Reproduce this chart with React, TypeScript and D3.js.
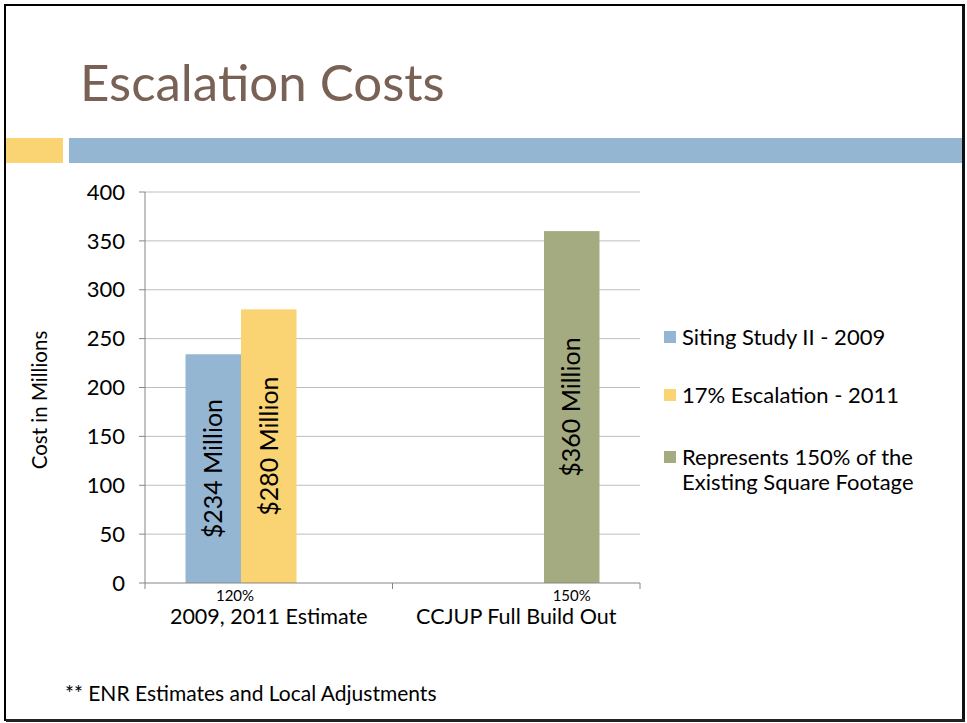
import React from "react";
import * as d3 from "d3";

const categories = ["2009, 2011 Estimate", "CCJUP Full Build Out"];
const seriesNames = [
  "Siting Study II - 2009",
  "17% Escalation - 2011",
  "Represents 150% of the Existing Square Footage",
];
const sitingStudy: (number | null)[] = [234, null];
const escalation: (number | null)[] = [280, null];
const represents: (number | null)[] = [null, 360];
const pctLabels = ["120%", "150%"];
const yTicks = [0, 50, 100, 150, 200, 250, 300, 350, 400];
const seriesColors = ["#94B6D2", "#FAD473", "#A5AB81"];

const FONT = "Lato, 'Open Sans', sans-serif";

export default function App() {
  const W = 967;
  const H = 723;
  const plot = { left: 145, right: 640, top: 192, bottom: 583 };
  const seriesValues = [sitingStudy, escalation, represents];

  const x = d3.scaleBand<string>().domain(categories).range([plot.left, plot.right]).padding(0);
  const xs = d3
    .scaleBand<number>()
    .domain([0, 1, 2])
    .range([0, x.bandwidth()])
    .paddingInner(0)
    .paddingOuter(0.73);
  const y = d3.scaleLinear().domain([0, 400]).range([plot.bottom, plot.top]);

  const bars: { cat: string; s: number; v: number }[] = [];
  categories.forEach((c, ci) => {
    seriesValues.forEach((arr, si) => {
      const v = arr[ci];
      if (v != null) bars.push({ cat: c, s: si, v });
    });
  });

  const pctX = categories.map((c, ci) => {
    const present = seriesValues.map((a, si) => (a[ci] != null ? si : -1)).filter((s) => s >= 0);
    const x0 = (x(c) as number) + (xs(present[0]) as number);
    const x1 = (x(c) as number) + (xs(present[present.length - 1]) as number) + xs.bandwidth();
    return (x0 + x1) / 2 - (present.length > 1 ? 6 : 0);
  });

  const legendY = [337, 395, 457];

  return (
    <div style={{ position: "fixed", left: 0, top: 0 }}>
      <svg width={W} height={H} style={{ display: "block", background: "#fff" }}>
        <rect x={5} y={5} width={959} height={715} fill="#fff" stroke="#000" strokeWidth={2} />
        <rect x={962} y={6} width={3} height={716} fill="#111" />
        <rect x={6} y={719} width={959} height={3} fill="#222" />
        <text x={80} y={101} fontFamily={FONT} fontSize={51} fill="#7A6155">
          Escalation Costs
        </text>
        <rect x={6} y={138} width={57} height={25} fill="#FAD473" />
        <rect x={69} y={138} width={893} height={25} fill="#94B6D2" />

        {/* gridlines */}
        {yTicks.map((t) => (
          <g key={t}>
            {t > 0 && (
              <line x1={plot.left} x2={plot.right} y1={y(t)} y2={y(t)} stroke="#BEBEBE" strokeWidth={1} />
            )}
            <line x1={plot.left - 6} x2={plot.left} y1={y(t)} y2={y(t)} stroke="#868686" strokeWidth={1} />
            <text
              x={125}
              y={y(t)}
              dy="0.35em"
              textAnchor="end"
              fontFamily={FONT}
              fontSize={22}
              fill="#000"
            >
              {t}
            </text>
          </g>
        ))}

        {/* bars */}
        {bars.map((b, i) => {
          const bx = (x(b.cat) as number) + (xs(b.s) as number);
          const bw = xs.bandwidth();
          const top = y(b.v);
          const cx = bx + bw / 2;
          const cy = (top + plot.bottom) / 2;
          return (
            <g key={i}>
              <rect x={bx} y={top} width={bw} height={plot.bottom - top} fill={seriesColors[b.s]} />
              <text
                transform={`translate(${cx},${cy}) rotate(-90)`}
                textAnchor="middle"
                dy="0.35em"
                fontFamily={FONT}
                fontSize={25}
                fill="#000"
              >
                {`$${b.v} Million`}
              </text>
            </g>
          );
        })}

        {/* axes */}
        <line x1={plot.left} x2={plot.left} y1={plot.top} y2={plot.bottom} stroke="#868686" strokeWidth={1} />
        <line x1={plot.left} x2={plot.right} y1={plot.bottom} y2={plot.bottom} stroke="#868686" strokeWidth={1} />
        {[...categories.map((c) => x(c) as number), plot.right].map((tx, i) => (
          <line key={i} x1={tx} x2={tx} y1={plot.bottom} y2={plot.bottom + 6} stroke="#868686" strokeWidth={1} />
        ))}
        {pctLabels.map((p, i) => (
          <text key={p} x={pctX[i]} y={601} textAnchor="middle" fontFamily={FONT} fontSize={15} fill="#000">
            {p}
          </text>
        ))}
        {categories.map((c) => (
          <text
            key={c}
            x={(x(c) as number) + x.bandwidth() / 2}
            y={624}
            textAnchor="middle"
            fontFamily={FONT}
            fontSize={21.5}
            fill="#000"
          >
            {c}
          </text>
        ))}

        <text
          transform={`translate(47,400) rotate(-90)`}
          textAnchor="middle"
          fontFamily={FONT}
          fontSize={20.5}
          fill="#000"
        >
          Cost in Millions
        </text>

        {/* legend */}
        {seriesNames.map((n, i) => {
          const lines = i === 2 ? ["Represents 150% of the", "Existing Square Footage"] : [n];
          return (
            <g key={n}>
              <rect x={664} y={legendY[i] - 6} width={12} height={12} fill={seriesColors[i]} />
              {lines.map((l, li) => (
                <text
                  key={li}
                  x={682}
                  y={legendY[i] + li * 25}
                  dy="0.35em"
                  fontFamily={FONT}
                  fontSize={22}
                  fill="#000"
                >
                  {l}
                </text>
              ))}
            </g>
          );
        })}

        <text x={65} y={701} fontFamily={FONT} fontSize={21} fill="#000">
          ** ENR Estimates and Local Adjustments
        </text>
      </svg>
    </div>
  );
}
